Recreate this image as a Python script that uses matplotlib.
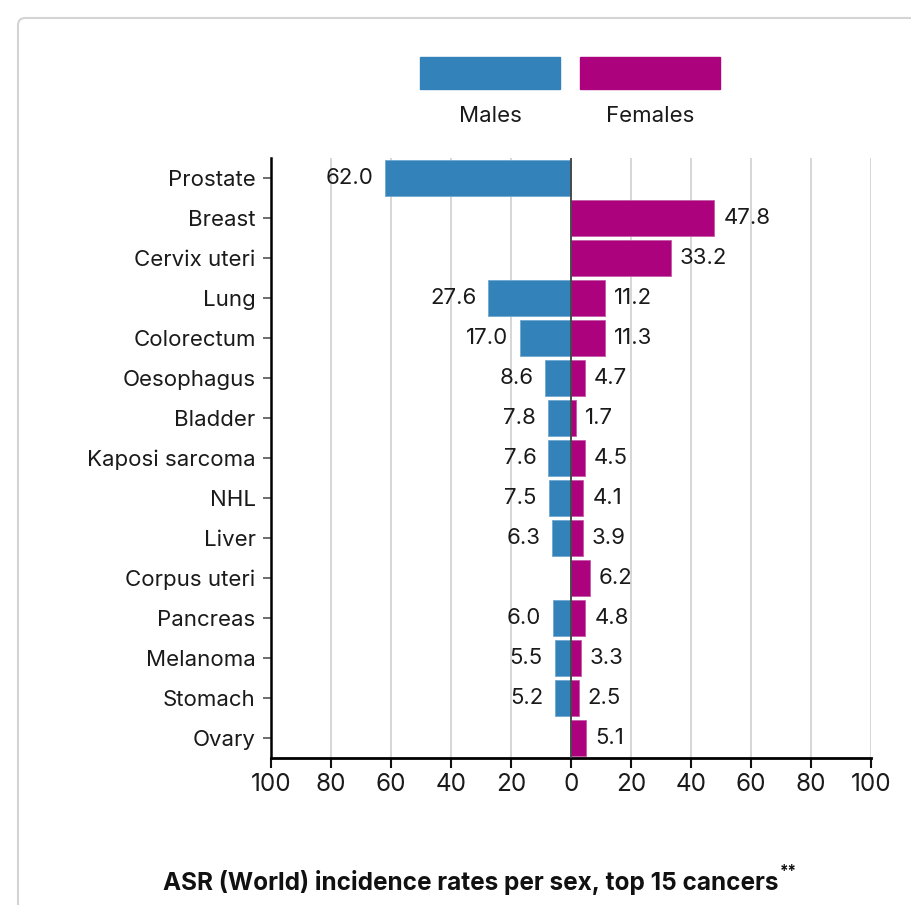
import matplotlib.pyplot as plt
from matplotlib.patches import Rectangle, FancyBboxPatch

plt.rcParams['font.family'] = ['Inter', 'DejaVu Sans']

# ASR (World) incidence per 100 000, top 15 cancers
cancers = ["Prostate", "Breast", "Cervix uteri", "Lung", "Colorectum", "Oesophagus",
           "Bladder", "Kaposi sarcoma", "NHL", "Liver", "Corpus uteri", "Pancreas",
           "Melanoma", "Stomach", "Ovary"]
males = [62.0, None, None, 27.6, 17.0, 8.6, 7.8, 7.6, 7.5, 6.3, None, 6.0, 5.5, 5.2, None]
females = [None, 47.8, 33.2, 11.2, 11.3, 4.7, 1.7, 4.5, 4.1, 3.9, 6.2, 4.8, 3.3, 2.5, 5.1]
xticks = [-100, -80, -60, -40, -20, 0, 20, 40, 60, 80, 100]

blue = "#3383ba"
magenta = "#ac027e"

W, H = 912, 905
fig = plt.figure(figsize=(W / 100, H / 100), dpi=100)

# card outline
card = FancyBboxPatch((18 / W, -0.05), 1.2, (H - 18) / H + 0.05,
                      boxstyle="round,pad=0,rounding_size=0.008",
                      transform=fig.transFigure, facecolor="white",
                      edgecolor="#d4d4d4", linewidth=1.5, zorder=-10)
fig.patches.append(card)

ax = fig.add_axes([271 / W, (H - 758) / H, 600 / W, 600 / H])
ax.set_facecolor("none")
ax.set_zorder(1)

for i, (m, f) in enumerate(zip(males, females)):
    if m is not None:
        ax.barh(i, -m, height=0.92, color=blue, edgecolor="#6fa7cf", linewidth=0.6, zorder=2)
        ax.annotate(f"{m:.1f}", (-m, i), xytext=(-8.5, 0), textcoords="offset points",
                    ha="right", va="center", fontsize=16, color="#1a1a1a")
    if f is not None:
        ax.barh(i, f, height=0.92, color=magenta, edgecolor="#c45aa6", linewidth=0.6, zorder=2)
        ax.annotate(f"{f:.1f}", (f, i), xytext=(6.5, 0), textcoords="offset points",
                    ha="left", va="center", fontsize=16, color="#1a1a1a")

ax.axvline(0, color="#444444", linewidth=1.3, zorder=3)

ax.set_xlim(-100, 100)
ax.set_ylim(14.5, -0.5)
ax.set_xticks(xticks)
ax.set_xticklabels([str(abs(t)) for t in xticks])
ax.set_yticks(range(len(cancers)))
ax.set_yticklabels(cancers)
ax.grid(axis="x", color="#d3d3d3", linewidth=1.3, zorder=0)
ax.set_axisbelow(True)

for s in ["top", "right"]:
    ax.spines[s].set_visible(False)
ax.spines["left"].set_linewidth(1.8)
ax.spines["bottom"].set_linewidth(2.0)
ax.tick_params(axis="y", length=6, width=1.2, color="#555555", labelsize=16, pad=5,
               labelcolor="#1a1a1a")
ax.tick_params(axis="x", length=7, width=1.5, color="#111111", labelsize=17.5, pad=4,
               labelcolor="#1a1a1a")

# legend as two colour blocks with labels beneath
fig.patches.append(Rectangle((420 / W, (H - 89) / H), 140 / W, 32 / H,
                             transform=fig.transFigure, color=blue))
fig.patches.append(Rectangle((580 / W, (H - 89) / H), 140 / W, 32 / H,
                             transform=fig.transFigure, color=magenta))
fig.text(490 / W, (H - 116) / H, "Males", ha="center", va="center", fontsize=16, color="#1a1a1a")
fig.text(650 / W, (H - 116) / H, "Females", ha="center", va="center", fontsize=16, color="#1a1a1a")

title = fig.text(163 / W, (H - 882) / H, "ASR (World) incidence rates per sex, top 15 cancers",
                 ha="left", va="center", fontsize=17.5, fontweight="bold", color="#111111")
fig.canvas.draw()
bb = title.get_window_extent()
fig.text((bb.x1 + 1) / W, (H - 871) / H, "**", ha="left", va="center",
         fontsize=11, fontweight="bold", color="#111111")

fig.savefig("out.png", dpi=100)
